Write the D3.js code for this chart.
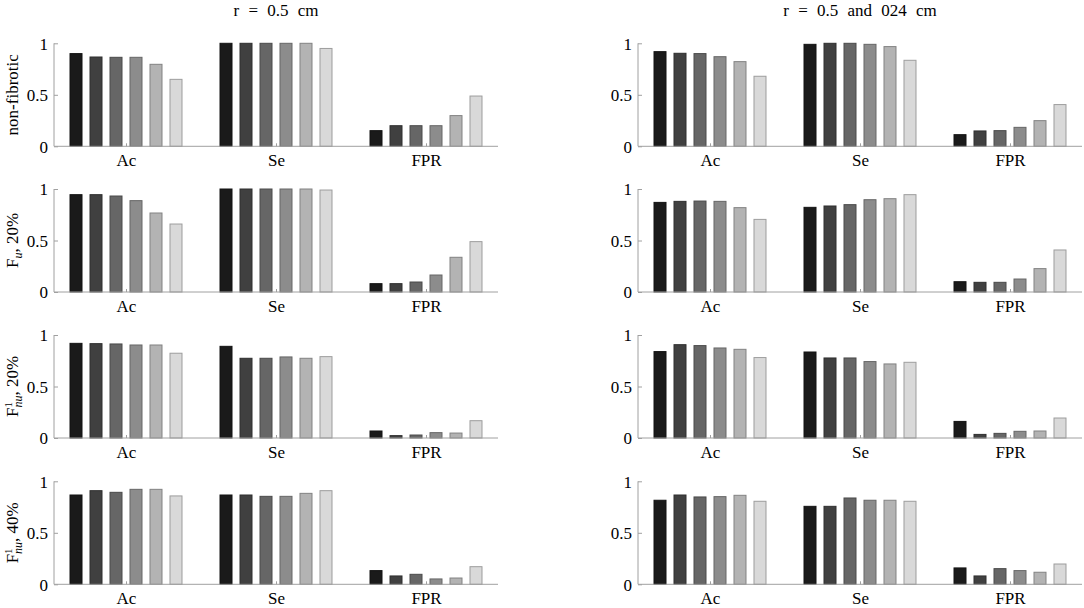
<!doctype html>
<html lang="en">
<head>
  <meta charset="utf-8">
  <script src="https://d3js.org/d3.v7.min.js"></script>
  <style>
    body { margin: 0; background: #fff; }
    text { font-family: "Liberation Serif", "DejaVu Serif", serif; fill: #000; }
  </style>
</head>
<body>
<svg id="plot" width="1084" height="608"></svg>
<script>
  // ---- data ----
  var metrics = ["Ac", "Se", "FPR"];
  var columnTitles = ["r = 0.5 cm", "r = 0.5 and 024 cm"];
  var rowLabels = ["non-fibrotic", "Fu20", "Fnu20", "Fnu40"];
  var yTicks = [0, 0.5, 1];
  var barGrays = ["#1a1a1a", "#404040", "#666666", "#8c8c8c", "#b3b3b3", "#d9d9d9"];

  // left column (r = 0.5 cm), one entry per row, [Ac, Se, FPR] x 6 bars
  var leftNonFibrotic = [
    [0.90, 0.867, 0.864, 0.864, 0.796, 0.65],
    [1.00, 1.00, 1.00, 1.00, 1.00, 0.95],
    [0.152, 0.20, 0.20, 0.20, 0.298, 0.488]
  ];
  var leftFu20 = [
    [0.945, 0.945, 0.932, 0.887, 0.767, 0.66],
    [1.00, 1.00, 1.00, 1.00, 1.00, 0.99],
    [0.081, 0.081, 0.097, 0.165, 0.337, 0.489]
  ];
  var leftFnu20 = [
    [0.919, 0.916, 0.913, 0.903, 0.903, 0.823],
    [0.89, 0.774, 0.774, 0.787, 0.774, 0.79],
    [0.068, 0.023, 0.029, 0.052, 0.048, 0.168]
  ];
  var leftFnu40 = [
    [0.867, 0.909, 0.893, 0.922, 0.922, 0.858],
    [0.867, 0.867, 0.854, 0.854, 0.883, 0.909],
    [0.133, 0.081, 0.097, 0.052, 0.061, 0.171]
  ];

  // right column (r = 0.5 and 024 cm)
  var rightNonFibrotic = [
    [0.919, 0.903, 0.90, 0.87, 0.822, 0.68],
    [0.99, 1.00, 1.00, 0.99, 0.968, 0.835],
    [0.113, 0.149, 0.152, 0.184, 0.249, 0.405]
  ];
  var rightFu20 = [
    [0.87, 0.88, 0.883, 0.88, 0.819, 0.705],
    [0.822, 0.835, 0.848, 0.896, 0.906, 0.945],
    [0.10, 0.094, 0.094, 0.126, 0.227, 0.408]
  ];
  var rightFnu20 = [
    [0.839, 0.906, 0.897, 0.874, 0.861, 0.781],
    [0.835, 0.777, 0.777, 0.742, 0.719, 0.735],
    [0.161, 0.035, 0.045, 0.065, 0.068, 0.194]
  ];
  var rightFnu40 = [
    [0.816, 0.867, 0.848, 0.851, 0.864, 0.806],
    [0.757, 0.757, 0.838, 0.816, 0.816, 0.806],
    [0.159, 0.081, 0.152, 0.133, 0.117, 0.197]
  ];

  var panels = [
    [leftNonFibrotic, rightNonFibrotic],
    [leftFu20, rightFu20],
    [leftFnu20, rightFnu20],
    [leftFnu40, rightFnu40]
  ];

  // ---- layout ----
  var colLeft = [54, 638];
  var axW = 444;
  var rowTop = [43.3, 189, 335, 481.3];
  var axH = 103;

  var svg = d3.select("#plot");

  var x = d3.scaleLinear().domain([0.52, 3.48]).range([0, axW]);
  var y = d3.scaleLinear().domain([0, 1]).range([axH, 0]);
  var inner = d3.scaleBand()
    .domain(d3.range(barGrays.length))
    .range([x(1 - 0.3733) - x(1), x(1 + 0.3733) - x(1)])
    .paddingInner(0.4)
    .paddingOuter(0);

  var axisColor = "#a0a0a0";

  function drawRowLabel(g, r) {
    var t = g.append("text")
      .attr("transform", "translate(-36," + (axH / 2) + ") rotate(-90)")
      .attr("text-anchor", "middle")
      .style("font-size", "17px");
    if (r == 0) {
      t.text("non-fibrotic");
    } else if (r == 1) {
      t.append("tspan").text("F");
      t.append("tspan").attr("dy", 4).style("font-size", "12px").style("font-style", "italic").text("u");
      t.append("tspan").attr("dy", -4).text(", 20%");
    } else {
      var pct = r == 2 ? ", 20%" : ", 40%";
      t.append("tspan").text("F");
      t.append("tspan").attr("dy", -6).style("font-size", "11px").text("1");
      t.append("tspan").attr("dx", -5.5).attr("dy", 10).style("font-size", "12px").style("font-style", "italic").text("nu");
      t.append("tspan").attr("dy", -4).text(pct);
    }
  }

  panels.forEach(function(row, r) {
    row.forEach(function(vals, c) {
      var g = svg.append("g")
        .attr("transform", "translate(" + colLeft[c] + "," + rowTop[r] + ")");

      // bars
      vals.forEach(function(series, m) {
        g.append("g").selectAll("rect")
          .data(series)
          .enter()
          .append("rect")
          .attr("x", function(d, i) { return x(m + 1) + inner(i); })
          .attr("width", inner.bandwidth())
          .attr("y", function(d) { return y(d); })
          .attr("height", function(d) { return y(0) - y(d); })
          .style("fill", function(d, i) { return barGrays[i]; })
          .style("stroke", function(d, i) { return d3.color(barGrays[i]).darker(0.9); })
          .style("stroke-width", 1);
      });

      // y axis
      var ya = g.append("g")
        .call(d3.axisRight(y).tickValues(yTicks).tickSize(4).tickFormat(d3.format("")));
      ya.select(".domain").attr("stroke", axisColor).attr("d", "M0," + y(0) + "V" + y(1));
      ya.selectAll(".tick line").attr("stroke", axisColor);
      ya.selectAll(".tick text")
        .attr("x", -6)
        .attr("dy", "0.35em")
        .style("text-anchor", "end")
        .style("font-size", "17px")
        .attr("fill", "#000")
        .style("font-family", "'Liberation Serif', serif");

      // x axis
      var xa = g.append("g")
        .attr("transform", "translate(0," + axH + ")")
        .call(d3.axisTop(x).tickValues([1, 2, 3]).tickSize(3).tickFormat(function(d) { return metrics[d - 1]; }));
      xa.select(".domain").attr("stroke", axisColor).attr("d", "M0,0H" + axW);
      xa.selectAll(".tick line").attr("stroke", axisColor);
      xa.selectAll(".tick text")
        .attr("y", 20)
        .attr("dy", 0)
        .style("font-size", "17px")
        .attr("fill", "#000")
        .style("font-family", "'Liberation Serif', serif");

      if (r == 0) {
        g.append("text")
          .attr("x", x(2))
          .attr("y", -27)
          .attr("text-anchor", "middle")
          .style("font-size", "17px")
          .style("word-spacing", "5px")
          .text(columnTitles[c]);
      }
      if (c == 0) drawRowLabel(g, r);
    });
  });
</script>
</body>
</html>
